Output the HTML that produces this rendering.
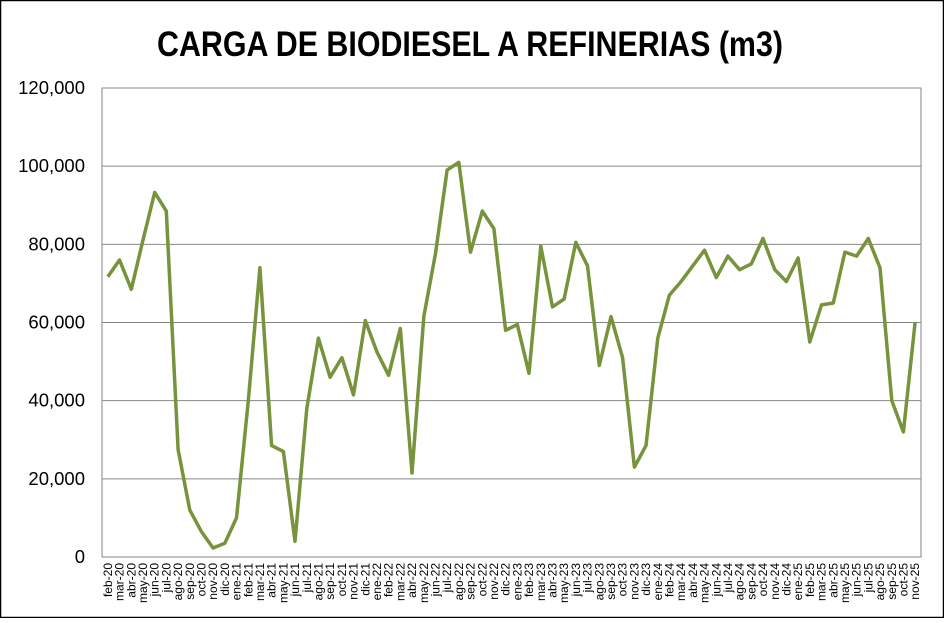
<!DOCTYPE html>
<html><head><meta charset="utf-8"><style>
html,body{margin:0;padding:0;background:#fff}
body{width:944px;height:618px;overflow:hidden}
</style></head><body>
<svg id="c" width="944" height="618" xmlns="http://www.w3.org/2000/svg" font-family="Liberation Sans, sans-serif">
<rect x="0.5" y="0.5" width="943" height="617" fill="#fff" stroke="#000" stroke-width="1.5"/>
<text x="157" y="56" font-size="35" font-weight="bold" textLength="626" lengthAdjust="spacingAndGlyphs" fill="#000">CARGA DE BIODIESEL A REFINERIAS (m3)</text>
<g id="g"></g>
</svg>
<script>
var v=[71700,76000,68500,81000,93300,88500,27500,12000,6500,2300,3500,10000,40000,74000,28500,27000,4000,38000,56000,46000,51000,41500,60500,52500,46500,58500,21500,61500,77500,99000,101000,78000,88500,84000,58000,59500,47000,79500,64000,66000,80500,74500,49000,61500,51000,23000,28500,56000,67000,70500,74500,78500,71500,77000,73500,75000,81500,73500,70500,76500,55000,64500,65000,78000,77000,81500,74000,40000,32000,60000];
var m=["ene","feb","mar","abr","may","jun","jul","ago","sep","oct","nov","dic"];
var L=102,R=921,T=88,B=557,n=70,w=(R-L)/n,s='';
for(var i=0;i<=6;i++){var y=B-i*(B-T)/6;
 if(i>0)s+='<line x1="'+L+'" x2="'+R+'" y1="'+y+'" y2="'+y+'" stroke="#868686" stroke-width="1"/>';
 s+='<text x="85" y="'+(y+6)+'" font-size="18.5" text-anchor="end">'+(i==0?'0':(i*20)+',000')+'</text>';}
s+='<rect x="'+L+'" y="'+T+'" width="'+(R-L)+'" height="'+(B-T)+'" fill="none" stroke="#868686"/>';
var p='';
for(var i=0;i<n;i++){var x=L+w*(i+0.5),y=B-v[i]/120000*(B-T);p+=(i?'L':'M')+x.toFixed(1)+','+y.toFixed(1);
 var mi=(i+1)%12,yr=20+Math.floor((i+1)/12);
 s+='<text transform="translate('+(x+4).toFixed(1)+',563) rotate(-90)" font-size="12" text-anchor="end">'+m[mi]+'-'+yr+'</text>';}
s+='<path d="'+p+'" fill="none" stroke="#77933c" stroke-width="3.5" stroke-linejoin="round"/>';
document.getElementById('g').innerHTML=s;
</script>
</body></html>
